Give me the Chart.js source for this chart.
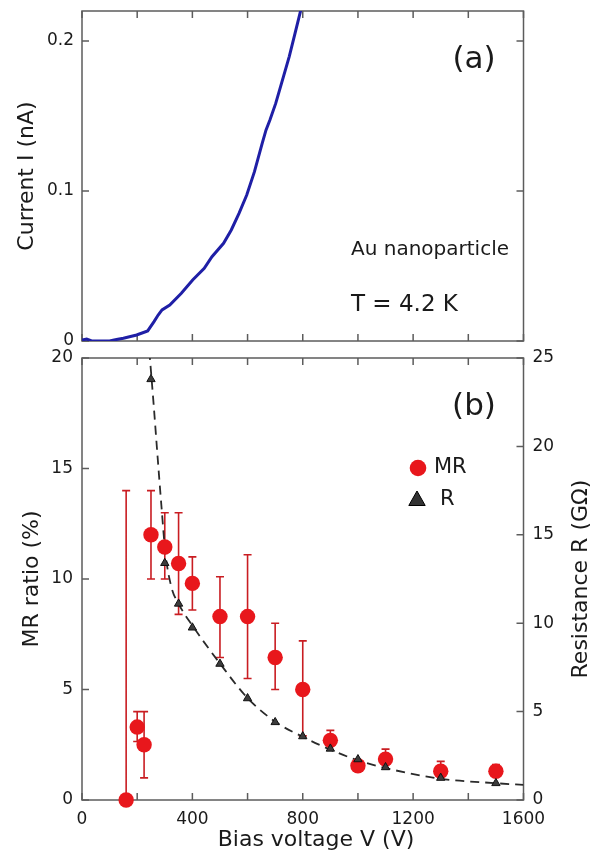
<!DOCTYPE html>
<html>
<head>
<meta charset="utf-8">
<title>Au nanoparticle: I-V and MR</title>
<style>
  body { margin: 0; background: #fff; }
  .wrap { position: relative; width: 602px; height: 853px; overflow: hidden; }
  canvas { position: absolute; left: 0; }
  #ivChart { top: 0; }
  #mrChart { top: 340px; }
</style>
</head>
<body>
<div class="wrap">
  <canvas id="ivChart" width="602" height="350"></canvas>
  <canvas id="mrChart" width="602" height="513"></canvas>
</div>

<script src="https://cdn.jsdelivr.net/npm/chart.js"></script>
<script>
// (a) I-V curve
const ivVoltage = [0, 17, 35, 60, 100, 125, 150, 198, 238, 261, 276, 290, 318, 360, 401, 443, 471, 513, 541, 569, 597, 625, 653, 667, 681, 702, 723, 751, 772, 793, 810];
const ivCurrent = [0.0006, 0.0013, 0, 0, 0, 0.001, 0.0018, 0.004, 0.0067, 0.0129, 0.0173, 0.0207, 0.024, 0.0318, 0.0407, 0.0484, 0.0562, 0.0651, 0.074, 0.0851, 0.0973, 0.1129, 0.1318, 0.1407, 0.1473, 0.1584, 0.1718, 0.1896, 0.2051, 0.2207, 0.233];

// (b) MR ratio with error bars
const biasV     = [160, 200, 225, 250, 300, 350, 400, 500, 600, 700, 800, 900, 1000, 1100, 1300, 1500];
const mrRatio   = [0, 3.3, 2.5, 12.0, 11.45, 10.7, 9.8, 8.3, 8.3, 6.45, 5.0, 2.7, 1.55, 1.85, 1.3, 1.3];
const mrErrHigh = [14, 4.0, 4.0, 14, 13, 13, 11, 10.1, 11.1, 8.0, 7.2, 3.15, null, 2.3, 1.75, 1.6];
const mrErrLow  = [null, 2.65, 1.0, 10, 10, 8.4, 8.6, 6.45, 5.5, 5.0, 2.9, 2.45, null, 1.6, 1.1, 1.1];

// (b) resistance (right axis) and dashed fit
const resV = [250, 300, 350, 400, 500, 600, 700, 800, 900, 1000, 1100, 1300, 1500];
const resistance = [23.8, 13.4, 11.1, 9.75, 7.7, 5.75, 4.4, 3.6, 2.9, 2.3, 1.85, 1.25, 0.95];
const fitV = [244, 260, 274, 288, 302, 323, 350, 403, 501, 601, 703, 803, 900, 998, 1102, 1300, 1501, 1600];
const fitR = [25.4, 22.3, 19.4, 16.6, 14.0, 12.1, 11.1, 9.8, 7.7, 5.75, 4.4, 3.55, 2.85, 2.25, 1.8, 1.2, 0.95, 0.85];

// ticks
const xTicks = [0, 200, 400, 600, 800, 1000, 1200, 1400, 1600];
const ivTicks = [0, 0.1, 0.2];
const mrTicks = [0, 5, 10, 15, 20];
const resTicks = [0, 5, 10, 15, 20, 25];

const FONT = '"DejaVu Sans", Verdana, sans-serif';
Chart.defaults.font.family = FONT;
Chart.defaults.color = '#1a1a1a';

const RED = '#e8171c';
const ERR = '#c91d22';

function toPts(xs, ys) {
  return xs.map((x, i) => ({ x: x, y: ys[i] }));
}

// fixed axis size, no extra label padding
function fixSize(size) {
  return function (s) {
    if (s.isHorizontal()) s.height = size; else s.width = size;
    s.paddingTop = 0; s.paddingBottom = 0; s.paddingLeft = 0; s.paddingRight = 0;
  };
}
function setTicks(list) {
  return function (s) { s.ticks = list.map(v => ({ value: v })); };
}

// box + inward ticks
const framePlugin = {
  id: 'frame',
  beforeDatasetsDraw(chart, args, opts) {
    const { ctx, chartArea: a } = chart;
    const len = 7;
    ctx.save();
    ctx.strokeStyle = '#5c5c5c';
    ctx.lineWidth = 1.5;
    ctx.strokeRect(a.left, a.top, a.right - a.left, a.bottom - a.top);
    ctx.beginPath();
    for (const id of Object.keys(chart.scales)) {
      const s = chart.scales[id];
      const mirror = (opts.mirror || []).includes(id);
      s.ticks.forEach(t => {
        const p = s.getPixelForValue(t.value);
        if (s.isHorizontal()) {
          ctx.moveTo(p, a.bottom); ctx.lineTo(p, a.bottom - len);
          if (mirror) { ctx.moveTo(p, a.top); ctx.lineTo(p, a.top + len); }
        } else if (s.position === 'left') {
          ctx.moveTo(a.left, p); ctx.lineTo(a.left + len, p);
          if (mirror) { ctx.moveTo(a.right, p); ctx.lineTo(a.right - len, p); }
        } else {
          ctx.moveTo(a.right, p); ctx.lineTo(a.right - len, p);
        }
      });
    }
    ctx.stroke();
    ctx.restore();
  }
};

const errorBarPlugin = {
  id: 'errbars',
  beforeDatasetsDraw(chart, args, opts) {
    if (!opts.on) return;
    const { ctx, scales: { x, y } } = chart;
    const cap = 4;
    ctx.save();
    ctx.strokeStyle = ERR;
    ctx.lineWidth = 1.6;
    ctx.beginPath();
    biasV.forEach((v, i) => {
      const px = x.getPixelForValue(v);
      const yc = y.getPixelForValue(mrRatio[i]);
      if (mrErrHigh[i] != null) {
        const yh = y.getPixelForValue(mrErrHigh[i]);
        ctx.moveTo(px, yc); ctx.lineTo(px, yh);
        ctx.moveTo(px - cap, yh); ctx.lineTo(px + cap, yh);
      }
      if (mrErrLow[i] != null) {
        const yl = y.getPixelForValue(mrErrLow[i]);
        ctx.moveTo(px, yc); ctx.lineTo(px, yl);
        ctx.moveTo(px - cap, yl); ctx.lineTo(px + cap, yl);
      }
    });
    ctx.stroke();
    ctx.restore();
  }
};

function txt(ctx, s, x, y, size, align) {
  ctx.font = size + 'px ' + FONT;
  ctx.textAlign = align || 'left';
  ctx.textBaseline = 'middle';
  ctx.fillText(s, x, y);
}

const notesPlugin = {
  id: 'notes',
  afterDraw(chart, args, opts) {
    const ctx = chart.ctx;
    const a = chart.chartArea;
    ctx.save();
    ctx.fillStyle = '#1a1a1a';
    if (opts.panel === 'a') {
      txt(ctx, '(a)', 474, 60, 31, 'center');
      txt(ctx, 'Au nanoparticle', 351, 250, 20);
      txt(ctx, 'T = 4.2 K', 351, 305, 23);
    } else if (opts.panel === 'b') {
      txt(ctx, '(b)', 474, 67, 31, 'center');
      // legend
      ctx.fillStyle = RED;
      ctx.beginPath(); ctx.arc(418, 128, 8.3, 0, Math.PI * 2); ctx.fill();
      ctx.fillStyle = '#333';
      ctx.strokeStyle = '#000';
      ctx.lineWidth = 1;
      ctx.beginPath();
      ctx.moveTo(417, 151); ctx.lineTo(425.2, 165.5); ctx.lineTo(408.8, 165.5); ctx.closePath();
      ctx.fill(); ctx.stroke();
      ctx.fillStyle = '#1a1a1a';
      txt(ctx, 'MR', 434, 128, 21);
      txt(ctx, 'R', 440, 160, 21);
      // x title sits a bit right of centre in the original
      txt(ctx, 'Bias voltage V (V)', 316, 500, 22, 'center');
      // right axis title, reads bottom to top
      ctx.translate(581, (a.top + a.bottom) / 2);
      ctx.rotate(-Math.PI / 2);
      txt(ctx, 'Resistance R (G\u03A9)', 0, 0, 22, 'center');
    }
    ctx.restore();
  }
};

// (a) I-V
new Chart(document.getElementById('ivChart'), {
  type: 'scatter',
  data: {
    datasets: [{
      data: toPts(ivVoltage, ivCurrent),
      showLine: true,
      borderColor: '#1f1fa6',
      borderWidth: 3,
      pointRadius: 0,
      tension: 0
    }]
  },
  options: {
    responsive: false,
    animation: false,
    events: [],
    layout: { padding: { top: 11, right: 78.5, left: 0, bottom: 0 } },
    plugins: {
      legend: { display: false },
      tooltip: { enabled: false },
      frame: { mirror: ['x', 'y'] },
      errbars: { on: false },
      notes: { panel: 'a' }
    },
    scales: {
      x: {
        type: 'linear', min: 0, max: 1600,
        grid: { display: false, drawTicks: false },
        border: { display: false },
        ticks: { display: false },
        afterBuildTicks: setTicks(xTicks),
        afterFit: fixSize(9)
      },
      y: {
        type: 'linear', min: 0, max: 0.22,
        grid: { display: false, drawTicks: false },
        border: { display: false },
        ticks: {
          padding: 8,
          font: { size: 17 },
          callback: v => (v === 0 ? '0' : v.toFixed(1))
        },
        afterBuildTicks: setTicks(ivTicks),
        afterFit: fixSize(82),
        title: {
          display: true, text: 'Current I (nA)',
          font: { size: 22, lineHeight: 1.0 },
          padding: { top: 16, bottom: 0 }
        }
      }
    }
  },
  plugins: [framePlugin, errorBarPlugin, notesPlugin]
});

// (b) MR ratio and resistance
new Chart(document.getElementById('mrChart'), {
  type: 'scatter',
  data: {
    datasets: [
      {
        label: 'R',
        data: toPts(resV, resistance),
        yAxisID: 'y2',
        pointStyle: 'triangle',
        pointRadius: 4.8,
        backgroundColor: '#3c3c3c',
        borderColor: '#111',
        borderWidth: 1,
        order: 0
      },
      {
        label: 'MR',
        data: toPts(biasV, mrRatio),
        yAxisID: 'y',
        pointRadius: 7.7,
        backgroundColor: RED,
        borderColor: RED,
        borderWidth: 0,
        clip: false,
        order: 1
      },
      {
        label: 'fit',
        data: toPts(fitV, fitR),
        yAxisID: 'y2',
        showLine: true,
        pointRadius: 0,
        borderColor: '#2a2a2a',
        borderWidth: 1.8,
        borderDash: [9, 6],
        cubicInterpolationMode: 'monotone',
        order: 2
      }
    ]
  },
  options: {
    responsive: false,
    animation: false,
    events: [],
    layout: { padding: { top: 18, right: 0, left: 0, bottom: 0 } },
    plugins: {
      legend: { display: false },
      tooltip: { enabled: false },
      frame: { mirror: ['x'] },
      errbars: { on: true },
      notes: { panel: 'b' }
    },
    scales: {
      x: {
        type: 'linear', min: 0, max: 1600,
        grid: { display: false, drawTicks: false },
        border: { display: false },
        ticks: {
          padding: 9,
          font: { size: 17 },
          maxRotation: 0,
          autoSkip: false,
          callback: v => (v % 400 === 0 ? String(v) : '')
        },
        afterBuildTicks: setTicks(xTicks),
        afterFit: fixSize(53)
      },
      y: {
        type: 'linear', position: 'left', min: 0, max: 20,
        grid: { display: false, drawTicks: false },
        border: { display: false },
        ticks: { padding: 9, font: { size: 17 } },
        afterBuildTicks: setTicks(mrTicks),
        afterFit: fixSize(82),
        title: {
          display: true, text: 'MR ratio (%)',
          font: { size: 22, lineHeight: 1.0 },
          padding: { top: 21, bottom: 0 }
        }
      },
      y2: {
        type: 'linear', position: 'right', min: 0, max: 25,
        grid: { display: false, drawTicks: false },
        border: { display: false },
        ticks: { padding: 9, font: { size: 17 } },
        afterBuildTicks: setTicks(resTicks),
        afterFit: fixSize(78.5)
      }
    }
  },
  plugins: [framePlugin, errorBarPlugin, notesPlugin]
});
</script>
</body>
</html>
